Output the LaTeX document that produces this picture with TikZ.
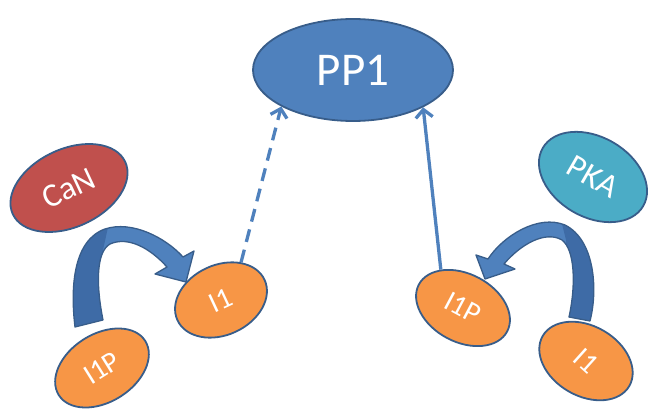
\documentclass[tikz,border=0pt]{standalone}
\usepackage{fontspec}
\setmainfont{Carlito}
\usetikzlibrary{shapes.geometric,arrows.meta}
\definecolor{pblue}{HTML}{4F81BD}
\definecolor{pdark}{HTML}{3E6BA6}
\definecolor{edge}{HTML}{385D8A}
\definecolor{pred}{HTML}{C0504D}
\definecolor{pteal}{HTML}{4BACC6}
\definecolor{porange}{HTML}{F79646}
\def\lcurve{(75,327) .. controls (70,285) and (74,240) .. (105,229) .. controls (132,220) and (166,238) .. (183,257) -- (194,251) -- (186,282) -- (155,274) -- (167,267) .. controls (150,248) and (128,236) .. (110,244) .. controls (96,252) and (96,285) .. (103,320) -- cycle}
\def\rcurve{(590,321) .. controls (598,290) and (595,240) .. (565,225) .. controls (538,214) and (503,236) .. (488,259) -- (476,255) -- (485,279) -- (515,269) -- (504,264) .. controls (520,245) and (545,230) .. (562,240) .. controls (575,250) and (576,285) .. (569,317) -- cycle}
\begin{document}
\begin{tikzpicture}[x=1pt,y=-1pt,
  blob/.style={ellipse, draw=edge, line width=1.8pt, inner sep=0pt, text=white},
  bigtext/.style={font=\fontsize{47}{50}\selectfont},
  midtext/.style={font=\fontsize{33}{36}\selectfont},
  smalltext/.style={font=\fontsize{29}{32}\selectfont},
  link/.style={draw=pblue, line width=3.3pt, -{Straight Barb[length=8pt,width=17pt]}},
  bandline/.style={draw=edge, line width=1.3pt, line join=round},
]
\useasboundingbox (0,0) rectangle (649,409);
% curved arrows
\fill[pblue] \lcurve;
\begin{scope}
  \clip \lcurve;
  \fill[pdark] (0,200) -- (114,200) -- (103,250) -- (112,340) -- (0,340) -- cycle;
\end{scope}
\draw[bandline] \lcurve;
\fill[pblue] \rcurve;
\begin{scope}
  \clip \rcurve;
  \fill[pdark] (556,200) -- (649,200) -- (649,340) -- (566,340) -- (566,240) -- cycle;
\end{scope}
\draw[bandline] \rcurve;
% nodes
\node[blob, fill=pblue, minimum width=200pt, minimum height=102pt, bigtext] (pp1) at (353,70) {PP1};
\node[blob, fill=pred, rotate=25, minimum width=124pt, minimum height=78pt, midtext] (can) at (69,188) {CaN};
\node[blob, fill=pteal, rotate=-30, minimum width=116pt, minimum height=80pt, midtext] (pka) at (593,177) {PKA};
\node[blob, fill=porange, rotate=25, minimum width=96pt, minimum height=70pt, smalltext] (i1l) at (221,300) {I1};
\node[blob, fill=porange, rotate=32, minimum width=102pt, minimum height=68pt, smalltext] (i1pl) at (102,368) {I1P};
\node[blob, fill=porange, rotate=-28, minimum width=100pt, minimum height=68pt, smalltext] (i1pr) at (463,308) {I1P};
\node[blob, fill=porange, rotate=-30, minimum width=100pt, minimum height=70pt, smalltext] (i1r) at (586,361) {\rotatebox{-12}{I1}};
% connectors
\draw[link, dash pattern=on 13pt off 8pt] (i1l.37) -- (pp1.207);
\draw[link] (i1pr.148) -- (pp1.332);
\end{tikzpicture}
\end{document}
